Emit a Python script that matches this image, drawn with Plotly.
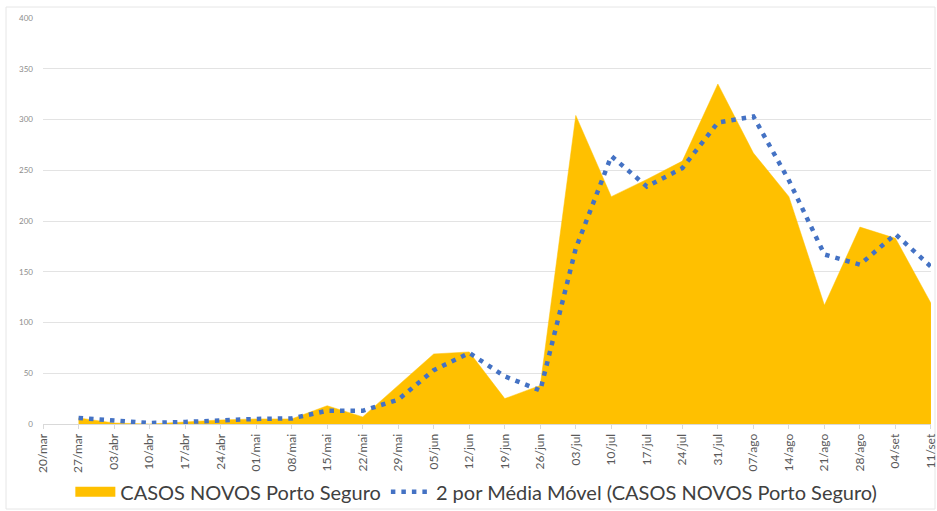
"""Casos novos semanais em Porto Seguro com média móvel de 2 períodos."""

import plotly.graph_objects as go

SEMANAS = [
    "20/mar", "27/mar", "03/abr", "10/abr", "17/abr", "24/abr", "01/mai",
    "08/mai", "15/mai", "22/mai", "29/mai", "05/jun", "12/jun", "19/jun",
    "26/jun", "03/jul", "10/jul", "17/jul", "24/jul", "31/jul", "07/ago",
    "14/ago", "21/ago", "28/ago", "04/set", "11/set",
]

CASOS_NOVOS = [
    None, 6, 1, 0, 2, 4, 5, 5, 18, 7, 38, 69, 71, 25,
    38, 304, 224, 241, 259, 335, 267, 224, 117, 194, 183, 119,
]

MEDIA_MOVEL = [
    None, 6, 3, 1, 2, 4, 5, 5.5, 13, 13, 24, 53, 70, 47,
    33, 173, 264, 234, 252, 297, 303, 240, 167, 157, 187, 155,
]

NOME_AREA = "CASOS NOVOS Porto Seguro"
NOME_MEDIA = "2 por Média Móvel (CASOS NOVOS Porto Seguro)"

AMARELO = "#FFC000"
AZUL = "#4472C4"

fig = go.Figure()

fig.add_trace(
    go.Scatter(
        x=SEMANAS,
        y=CASOS_NOVOS,
        name=NOME_AREA,
        mode="lines",
        fill="tozeroy",
        fillcolor=AMARELO,
        line=dict(color=AMARELO, width=0.5),
        showlegend=False,
    )
)
# entrada de legenda com o retângulo cheio (como no Excel)
fig.add_trace(
    go.Scatter(
        x=[None],
        y=[None],
        name=NOME_AREA,
        mode="lines",
        line=dict(color=AMARELO, width=14),
    )
)
fig.add_trace(
    go.Scatter(
        x=SEMANAS,
        y=MEDIA_MOVEL,
        name=NOME_MEDIA,
        mode="lines",
        line=dict(color=AZUL, width=4.5, dash="4.5px,6px"),
    )
)

fig.update_layout(
    width=937,
    height=511,
    margin=dict(l=43, r=6, t=18, b=87, autoexpand=False),
    plot_bgcolor="white",
    paper_bgcolor="white",
    font=dict(family="Lato, 'Open Sans', sans-serif", color="#404040"),
    showlegend=True,
    legend=dict(
        orientation="h",
        x=0.488,
        xanchor="center",
        y=-0.167,
        yanchor="middle",
        font=dict(size=20, color="#404040"),
        itemwidth=40,
        bgcolor="rgba(0,0,0,0)",
    ),
)

fig.update_xaxes(
    type="category",
    range=[-0.001, len(SEMANAS) - 1 + 0.001],
    tickangle=-90,
    tickfont=dict(size=12, color="#595959"),
    showgrid=False,
    showline=True,
    linecolor="#D9D9D9",
    ticks="outside",
    ticklen=4,
    tickcolor="#D9D9D9",
    automargin=False,
)
fig.update_yaxes(
    range=[0, 400],
    dtick=50,
    tickfont=dict(size=8, color="#8C8C8C"),
    ticklabelstandoff=9,
    showgrid=True,
    gridcolor="#E3E3E3",
    gridwidth=1,
    zeroline=False,
    showline=False,
    ticks="",
    automargin=False,
)

# moldura leve em volta do gráfico
fig.add_shape(
    type="rect",
    xref="paper",
    yref="paper",
    x0=-37 / 888,
    x1=1 + 4 / 888,
    y0=-85 / 406,
    y1=1 + 11 / 406,
    line=dict(color="#E6E6E6", width=1),
    fillcolor="rgba(0,0,0,0)",
    layer="below",
)

fig.write_html(
    "out.html",
    config={"displayModeBar": False},
    post_script="document.body.style.margin='0';",
)
